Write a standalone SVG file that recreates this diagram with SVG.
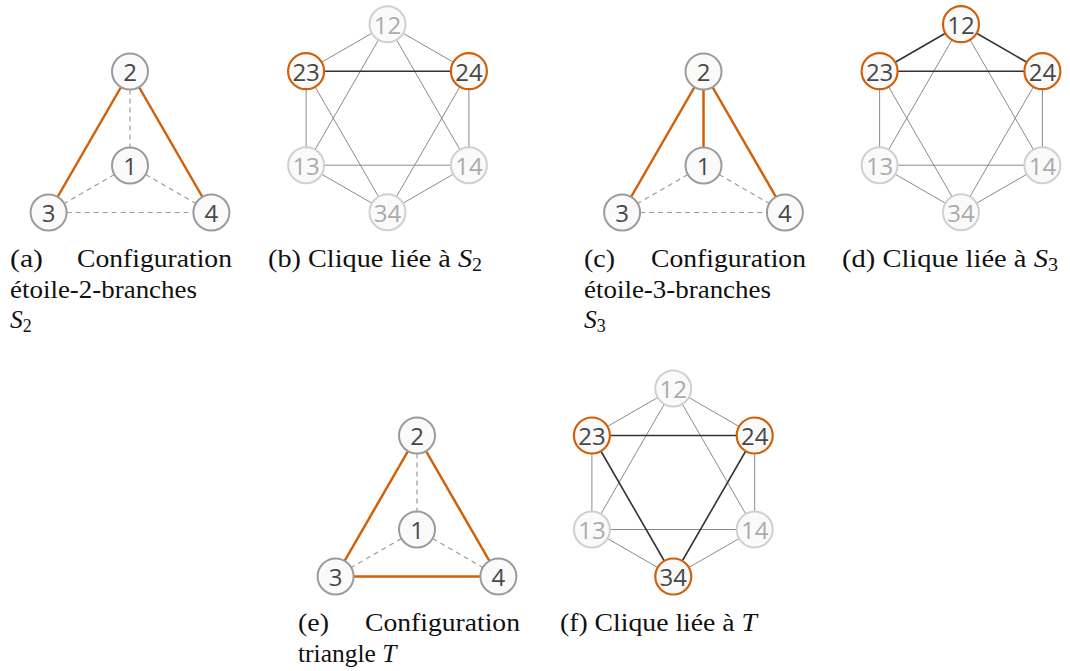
<svg xmlns="http://www.w3.org/2000/svg" width="1070" height="671" viewBox="0 0 1070 671">
<style>
.n circle{fill:#fafafa;stroke:#9b9b9b;stroke-width:2}
.n text{font-family:"Open Sans","DejaVu Sans",sans-serif;font-size:24px;fill:#484848;text-anchor:middle;dominant-baseline:central}
.f circle{stroke:#d0d0d0}
.f text{fill:#ababab}
.o circle{stroke:#d2600a;stroke-width:2.2}
.edges line{fill:none}
.or{stroke:#d2600a;stroke-width:2.5}
.da{stroke:#9b9b9b;stroke-width:1.2;stroke-dasharray:5 4}
.lt{stroke:#8a8a8a;stroke-width:1}
.dk{stroke:#333333;stroke-width:1.6}
.cap{font-family:"Liberation Serif","Times New Roman",serif;font-size:25.5px;fill:#111}
.it{font-style:italic}
.sub{font-size:18px}
</style>
<rect width="1070" height="671" fill="#ffffff"/>

<!-- Panel (a) -->
<g id="panel-a" transform="translate(130,165.5)">
  <g id="a-edges" class="edges">
    <line class="da" x1="0" y1="-94" x2="0" y2="0"/>
    <line class="da" x1="0" y1="0" x2="-81.4" y2="47"/>
    <line class="da" x1="0" y1="0" x2="81.4" y2="47"/>
    <line class="da" x1="-81.4" y1="47" x2="81.4" y2="47"/>
    <line class="or" x1="0" y1="-94" x2="-81.4" y2="47"/>
    <line class="or" x1="0" y1="-94" x2="81.4" y2="47"/>
  </g>
  <g id="a-n2" class="n"><circle cx="0" cy="-94" r="18"/><text x="0" y="-94">2</text></g>
  <g id="a-n1" class="n"><circle cx="0" cy="0" r="18"/><text x="0" y="0">1</text></g>
  <g id="a-n3" class="n"><circle cx="-81.4" cy="47" r="18"/><text x="-81.4" y="47">3</text></g>
  <g id="a-n4" class="n"><circle cx="81.4" cy="47" r="18"/><text x="81.4" y="47">4</text></g>
</g>

<!-- Panel (b) -->
<g id="panel-b" transform="translate(387.5,118.2)">
  <g id="b-edges" class="edges">
    <line class="lt" x1="0" y1="-94" x2="-81.4" y2="-47"/>
    <line class="lt" x1="0" y1="-94" x2="81.4" y2="-47"/>
    <line class="lt" x1="0" y1="-94" x2="-81.4" y2="47"/>
    <line class="lt" x1="0" y1="-94" x2="81.4" y2="47"/>
    <line class="lt" x1="-81.4" y1="-47" x2="-81.4" y2="47"/>
    <line class="lt" x1="-81.4" y1="-47" x2="0" y2="94"/>
    <line class="lt" x1="81.4" y1="-47" x2="81.4" y2="47"/>
    <line class="lt" x1="81.4" y1="-47" x2="0" y2="94"/>
    <line class="lt" x1="-81.4" y1="47" x2="81.4" y2="47"/>
    <line class="lt" x1="-81.4" y1="47" x2="0" y2="94"/>
    <line class="lt" x1="81.4" y1="47" x2="0" y2="94"/>
    <line class="dk" x1="-81.4" y1="-47" x2="81.4" y2="-47"/>
  </g>
  <g id="b-n12" class="n f"><circle cx="0" cy="-94" r="18"/><text x="0" y="-94">12</text></g>
  <g id="b-n23" class="n o"><circle cx="-81.4" cy="-47" r="18"/><text x="-81.4" y="-47">23</text></g>
  <g id="b-n24" class="n o"><circle cx="81.4" cy="-47" r="18"/><text x="81.4" y="-47">24</text></g>
  <g id="b-n13" class="n f"><circle cx="-81.4" cy="47" r="18"/><text x="-81.4" y="47">13</text></g>
  <g id="b-n14" class="n f"><circle cx="81.4" cy="47" r="18"/><text x="81.4" y="47">14</text></g>
  <g id="b-n34" class="n f"><circle cx="0" cy="94" r="18"/><text x="0" y="94">34</text></g>
</g>

<!-- Panel (c) -->
<g id="panel-c" transform="translate(703.5,165.5)">
  <g id="c-edges" class="edges">
    <line class="da" x1="0" y1="0" x2="-81.4" y2="47"/>
    <line class="da" x1="0" y1="0" x2="81.4" y2="47"/>
    <line class="da" x1="-81.4" y1="47" x2="81.4" y2="47"/>
    <line class="or" x1="0" y1="-94" x2="0" y2="0"/>
    <line class="or" x1="0" y1="-94" x2="-81.4" y2="47"/>
    <line class="or" x1="0" y1="-94" x2="81.4" y2="47"/>
  </g>
  <g id="c-n2" class="n"><circle cx="0" cy="-94" r="18"/><text x="0" y="-94">2</text></g>
  <g id="c-n1" class="n"><circle cx="0" cy="0" r="18"/><text x="0" y="0">1</text></g>
  <g id="c-n3" class="n"><circle cx="-81.4" cy="47" r="18"/><text x="-81.4" y="47">3</text></g>
  <g id="c-n4" class="n"><circle cx="81.4" cy="47" r="18"/><text x="81.4" y="47">4</text></g>
</g>

<!-- Panel (d) -->
<g id="panel-d" transform="translate(961,118.2)">
  <g id="d-edges" class="edges">
    <line class="lt" x1="0" y1="-94" x2="-81.4" y2="47"/>
    <line class="lt" x1="0" y1="-94" x2="81.4" y2="47"/>
    <line class="lt" x1="-81.4" y1="-47" x2="-81.4" y2="47"/>
    <line class="lt" x1="-81.4" y1="-47" x2="0" y2="94"/>
    <line class="lt" x1="81.4" y1="-47" x2="81.4" y2="47"/>
    <line class="lt" x1="81.4" y1="-47" x2="0" y2="94"/>
    <line class="lt" x1="-81.4" y1="47" x2="81.4" y2="47"/>
    <line class="lt" x1="-81.4" y1="47" x2="0" y2="94"/>
    <line class="lt" x1="81.4" y1="47" x2="0" y2="94"/>
    <line class="dk" x1="0" y1="-94" x2="-81.4" y2="-47"/>
    <line class="dk" x1="0" y1="-94" x2="81.4" y2="-47"/>
    <line class="dk" x1="-81.4" y1="-47" x2="81.4" y2="-47"/>
  </g>
  <g id="d-n12" class="n o"><circle cx="0" cy="-94" r="18"/><text x="0" y="-94">12</text></g>
  <g id="d-n23" class="n o"><circle cx="-81.4" cy="-47" r="18"/><text x="-81.4" y="-47">23</text></g>
  <g id="d-n24" class="n o"><circle cx="81.4" cy="-47" r="18"/><text x="81.4" y="-47">24</text></g>
  <g id="d-n13" class="n f"><circle cx="-81.4" cy="47" r="18"/><text x="-81.4" y="47">13</text></g>
  <g id="d-n14" class="n f"><circle cx="81.4" cy="47" r="18"/><text x="81.4" y="47">14</text></g>
  <g id="d-n34" class="n f"><circle cx="0" cy="94" r="18"/><text x="0" y="94">34</text></g>
</g>

<!-- Panel (e) -->
<g id="panel-e" transform="translate(417,529.5)">
  <g id="e-edges" class="edges">
    <line class="da" x1="0" y1="-94" x2="0" y2="0"/>
    <line class="da" x1="0" y1="0" x2="-81.4" y2="47"/>
    <line class="da" x1="0" y1="0" x2="81.4" y2="47"/>
    <line class="or" x1="-81.4" y1="47" x2="81.4" y2="47"/>
    <line class="or" x1="0" y1="-94" x2="-81.4" y2="47"/>
    <line class="or" x1="0" y1="-94" x2="81.4" y2="47"/>
  </g>
  <g id="e-n2" class="n"><circle cx="0" cy="-94" r="18"/><text x="0" y="-94">2</text></g>
  <g id="e-n1" class="n"><circle cx="0" cy="0" r="18"/><text x="0" y="0">1</text></g>
  <g id="e-n3" class="n"><circle cx="-81.4" cy="47" r="18"/><text x="-81.4" y="47">3</text></g>
  <g id="e-n4" class="n"><circle cx="81.4" cy="47" r="18"/><text x="81.4" y="47">4</text></g>
</g>

<!-- Panel (f) -->
<g id="panel-f" transform="translate(673.3,482.5)">
  <g id="f-edges" class="edges">
    <line class="lt" x1="0" y1="-94" x2="-81.4" y2="-47"/>
    <line class="lt" x1="0" y1="-94" x2="81.4" y2="-47"/>
    <line class="lt" x1="0" y1="-94" x2="-81.4" y2="47"/>
    <line class="lt" x1="0" y1="-94" x2="81.4" y2="47"/>
    <line class="lt" x1="-81.4" y1="-47" x2="-81.4" y2="47"/>
    <line class="lt" x1="81.4" y1="-47" x2="81.4" y2="47"/>
    <line class="lt" x1="-81.4" y1="47" x2="81.4" y2="47"/>
    <line class="lt" x1="-81.4" y1="47" x2="0" y2="94"/>
    <line class="lt" x1="81.4" y1="47" x2="0" y2="94"/>
    <line class="dk" x1="-81.4" y1="-47" x2="81.4" y2="-47"/>
    <line class="dk" x1="-81.4" y1="-47" x2="0" y2="94"/>
    <line class="dk" x1="81.4" y1="-47" x2="0" y2="94"/>
  </g>
  <g id="f-n12" class="n f"><circle cx="0" cy="-94" r="18"/><text x="0" y="-94">12</text></g>
  <g id="f-n23" class="n o"><circle cx="-81.4" cy="-47" r="18"/><text x="-81.4" y="-47">23</text></g>
  <g id="f-n24" class="n o"><circle cx="81.4" cy="-47" r="18"/><text x="81.4" y="-47">24</text></g>
  <g id="f-n13" class="n f"><circle cx="-81.4" cy="47" r="18"/><text x="-81.4" y="47">13</text></g>
  <g id="f-n14" class="n f"><circle cx="81.4" cy="47" r="18"/><text x="81.4" y="47">14</text></g>
  <g id="f-n34" class="n o"><circle cx="0" cy="94" r="18"/><text x="0" y="94">34</text></g>
</g>

<!-- Captions -->
<g id="captions">
  <text class="cap" x="10" y="267" textLength="33" lengthAdjust="spacingAndGlyphs">(a)</text>
  <text class="cap" x="77" y="267" textLength="155" lengthAdjust="spacingAndGlyphs">Configuration</text>
  <text class="cap" x="10" y="297.5" textLength="187" lengthAdjust="spacingAndGlyphs">étoile-2-branches</text>
  <text class="cap" x="10" y="328"><tspan class="it">S</tspan><tspan class="sub" dy="4">2</tspan></text>

  <text class="cap" x="268" y="267" textLength="214" lengthAdjust="spacingAndGlyphs">(b) Clique liée à <tspan class="it">S</tspan><tspan class="sub" dy="4">2</tspan></text>

  <text class="cap" x="584" y="267" textLength="31" lengthAdjust="spacingAndGlyphs">(c)</text>
  <text class="cap" x="651" y="267" textLength="155" lengthAdjust="spacingAndGlyphs">Configuration</text>
  <text class="cap" x="584" y="297.5" textLength="187" lengthAdjust="spacingAndGlyphs">étoile-3-branches</text>
  <text class="cap" x="584" y="328"><tspan class="it">S</tspan><tspan class="sub" dy="4">3</tspan></text>

  <text class="cap" x="842" y="267" textLength="216" lengthAdjust="spacingAndGlyphs">(d) Clique liée à <tspan class="it">S</tspan><tspan class="sub" dy="4">3</tspan></text>

  <text class="cap" x="298" y="631" textLength="31" lengthAdjust="spacingAndGlyphs">(e)</text>
  <text class="cap" x="365" y="631" textLength="155" lengthAdjust="spacingAndGlyphs">Configuration</text>
  <text class="cap" x="298" y="661.5">triangle <tspan class="it">T</tspan></text>

  <text class="cap" x="560" y="631" textLength="197" lengthAdjust="spacingAndGlyphs">(f) Clique liée à <tspan class="it">T</tspan></text>
</g>
</svg>
